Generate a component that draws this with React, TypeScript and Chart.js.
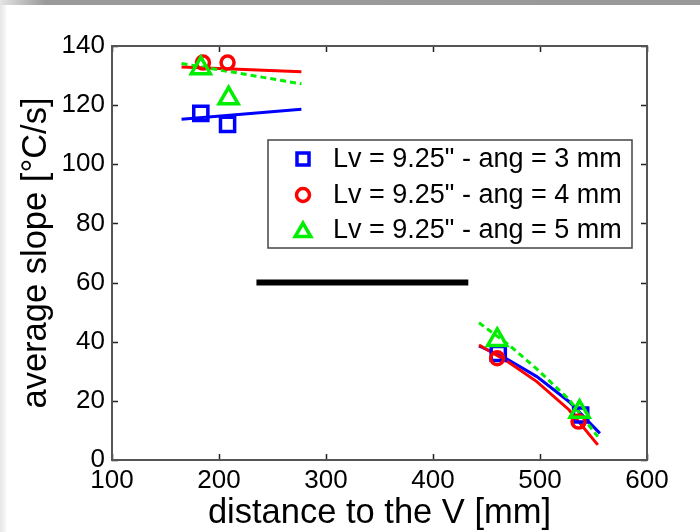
import React, { useEffect, useRef } from "react";
import { Chart, registerables } from "chart.js";

Chart.register(...registerables);

// ---- data ----
const xTickValues = [100, 200, 300, 400, 500, 600];
const yTickValues = [0, 20, 40, 60, 80, 100, 120, 140];
const xTitle = "distance to the V [mm]";
const yTitle = "average slope [°C/s]";

const seriesLabels = [
  'Lv = 9.25" - ang = 3 mm',
  'Lv = 9.25" - ang = 4 mm',
  'Lv = 9.25" - ang = 5 mm',
];
const seriesColors = ["#0000ff", "#ff0000", "#00ee00"];

// measured points
const dist3 = [183, 208, 461, 538];
const slope3 = [117.2, 113.5, 36.0, 15.2];
const dist4 = [185, 208, 460, 536];
const slope4 = [134.4, 134.4, 34.4, 13.0];
const dist5 = [183, 209, 460, 537];
const slope5 = [132.5, 122.3, 40.6, 16.3];

// fitted curves (null = gap)
const fitX3 = [165, 277, null, 443, 470, 497, 527, 556];
const fitY3 = [115.2, 118.6, null, 38.6, 34.0, 28.2, 19.8, 9.0];
const fitX4 = [165, 277, null, 443, 470, 497, 527, 554];
const fitY4 = [132.9, 131.3, null, 38.9, 33.2, 26.5, 17.0, 5.1];
const fitX5 = [165, 277, null, 443, 470, 497, 527, 554];
const fitY5 = [134.1, 127.2, null, 46.4, 39.2, 30.8, 20.5, 7.9];

// black reference bar
const barX = [235, 433];
const barY = [60, 60];

const FONT = "'Liberation Sans', Arial, Helvetica, sans-serif";

const toPts = (xs: (number | null)[], ys: (number | null)[]) =>
  xs.map((x, i) => ({ x: x === null ? NaN : x, y: ys[i] }));

function drawMarker(ctx: CanvasRenderingContext2D, style: string, x: number, y: number, r: number, color: string, lw: number) {
  ctx.save();
  ctx.strokeStyle = color;
  ctx.lineWidth = lw;
  ctx.beginPath();
  if (style === "rect") {
    const s = Math.SQRT1_2 * r;
    ctx.rect(x - s, y - s, 2 * s, 2 * s);
  } else if (style === "circle") {
    ctx.arc(x, y, r, 0, Math.PI * 2);
  } else {
    let rad = 0;
    ctx.moveTo(x + Math.sin(rad) * r, y - Math.cos(rad) * r);
    rad += (2 * Math.PI) / 3;
    ctx.lineTo(x + Math.sin(rad) * r, y - Math.cos(rad) * r);
    rad += (2 * Math.PI) / 3;
    ctx.lineTo(x + Math.sin(rad) * r, y - Math.cos(rad) * r);
    ctx.closePath();
  }
  ctx.stroke();
  ctx.restore();
}

const markerStyles = ["rect", "circle", "triangle"];
const markerRadii = [10, 6.5, 11];
const legendRadii = [8.5, 6.5, 9];

const framePlugin = {
  id: "frame",
  afterDraw(chart: any) {
    const { ctx, chartArea: a } = chart;
    const xs = chart.scales.x;
    const ys = chart.scales.y;
    ctx.save();
    // ticks (inward)
    ctx.strokeStyle = "#222";
    ctx.lineWidth = 1.5;
    const tl = 6;
    xs.ticks.forEach((t: any) => {
      const px = Math.round(xs.getPixelForValue(t.value)) + 0.5;
      ctx.beginPath();
      ctx.moveTo(px, a.bottom);
      ctx.lineTo(px, a.bottom - tl);
      ctx.moveTo(px, a.top);
      ctx.lineTo(px, a.top + tl);
      ctx.stroke();
    });
    ys.ticks.forEach((t: any) => {
      const py = Math.round(ys.getPixelForValue(t.value)) + 0.5;
      ctx.beginPath();
      ctx.moveTo(a.left, py);
      ctx.lineTo(a.left + tl, py);
      ctx.moveTo(a.right, py);
      ctx.lineTo(a.right - tl, py);
      ctx.stroke();
    });
    // box
    ctx.strokeStyle = "#555";
    ctx.lineWidth = 2;
    ctx.strokeRect(a.left, a.top, a.right - a.left, a.bottom - a.top);

    // legend
    const lx = 268, ly = 140, lw = 364, lh = 108;
    ctx.fillStyle = "#fff";
    ctx.fillRect(lx, ly, lw, lh);
    ctx.strokeStyle = "#444";
    ctx.lineWidth = 1.5;
    ctx.strokeRect(lx, ly, lw, lh);
    ctx.font = `27px ${FONT}`;
    ctx.fillStyle = "#000";
    ctx.textBaseline = "middle";
    ctx.textAlign = "left";
    const rows = [159, 195, 230];
    seriesLabels.forEach((lab, i) => {
      drawMarker(ctx, markerStyles[i], 303, rows[i] + (i === 2 ? 2 : 0), legendRadii[i], seriesColors[i], 3.5);
      ctx.fillText(lab, 333, rows[i] + 1);
    });
    ctx.restore();
  },
};

export default function App() {
  const ref = useRef<HTMLCanvasElement>(null);
  useEffect(() => {
    if (!ref.current) return;
    const markerSets = [2, 1, 0].map((i) => ({
      type: "scatter" as const,
      label: seriesLabels[i],
      data: toPts([dist3, dist4, dist5][i], [slope3, slope4, slope5][i]),
      showLine: false,
      pointStyle: markerStyles[i],
      pointRadius: markerRadii[i],
      pointHoverRadius: markerRadii[i],
      pointBorderWidth: 3.5,
      pointBorderColor: seriesColors[i],
      pointBackgroundColor: "rgba(0,0,0,0)",
      borderColor: seriesColors[i],
    }));
    const fitSets = [2, 1, 0].map((i) => ({
      type: "line" as const,
      label: seriesLabels[i] + " fit",
      data: toPts([fitX3, fitX4, fitX5][i], [fitY3, fitY4, fitY5][i]),
      borderColor: seriesColors[i],
      borderWidth: 3,
      borderDash: i === 2 ? [6, 4] : [],
      pointRadius: 0,
      spanGaps: false,
      tension: 0,
      fill: false,
    }));
    const barSet = {
      type: "line" as const,
      label: "bar",
      data: toPts(barX, barY),
      borderColor: "#000",
      borderWidth: 6,
      borderCapStyle: "butt" as const,
      pointRadius: 0,
      fill: false,
    };
    const chart = new Chart(ref.current, {
      type: "scatter",
      data: { datasets: [...markerSets, ...fitSets, barSet] as any },
      options: {
        animation: false,
        responsive: false,
        devicePixelRatio: 1,
        events: [],
        layout: { padding: { top: 46, right: 53, left: 0, bottom: 0 } },
        plugins: { legend: { display: false }, tooltip: { enabled: false } },
        scales: {
          x: {
            type: "linear",
            position: "bottom",
            min: 100,
            max: 600,
            afterBuildTicks: (s: any) => {
              s.ticks = xTickValues.map((v) => ({ value: v }));
            },
            afterFit: (s: any) => {
              s.height = 72;
            },
            grid: { display: false, drawTicks: false },
            border: { display: false },
            ticks: {
              color: "#000",
              font: { family: FONT, size: 26, lineHeight: 1 },
              padding: 8,
              maxRotation: 0,
              autoSkip: false,
            },
            title: {
              display: true,
              text: xTitle,
              color: "#000",
              font: { family: FONT, size: 34.5, lineHeight: 1 },
              padding: { top: 0, bottom: 1 },
            },
          },
          y: {
            type: "linear",
            position: "left",
            min: 0,
            max: 140,
            afterBuildTicks: (s: any) => {
              s.ticks = yTickValues.map((v) => ({ value: v }));
            },
            afterFit: (s: any) => {
              s.width = 112;
            },
            grid: { display: false, drawTicks: false },
            border: { display: false },
            ticks: {
              color: "#000",
              font: { family: FONT, size: 26, lineHeight: 1 },
              padding: 7,
              autoSkip: false,
            },
            title: {
              display: true,
              text: yTitle,
              color: "#000",
              font: { family: FONT, size: 34.5, lineHeight: 1 },
              padding: { top: 19, bottom: 0 },
            },
          },
        },
      },
      plugins: [framePlugin],
    });
    return () => chart.destroy();
  }, []);

  return (
    <div style={{ position: "fixed", left: 0, top: 0, width: 700, height: 532, background: "#fff", overflow: "hidden" }}>
      <canvas ref={ref} width={700} height={532} style={{ position: "absolute", left: 0, top: 0 }} />
      <div style={{ position: "absolute", left: 0, top: 0, width: 700, height: 5, background: "linear-gradient(to right, #e4e4e4 0px, #9a9a9a 45px, #999 100%)" }} />
      <div style={{ position: "absolute", left: 0, top: 5, width: 6, height: 527, background: "linear-gradient(to right, #e6e6e6, #f8f8f8)" }} />
    </div>
  );
}
